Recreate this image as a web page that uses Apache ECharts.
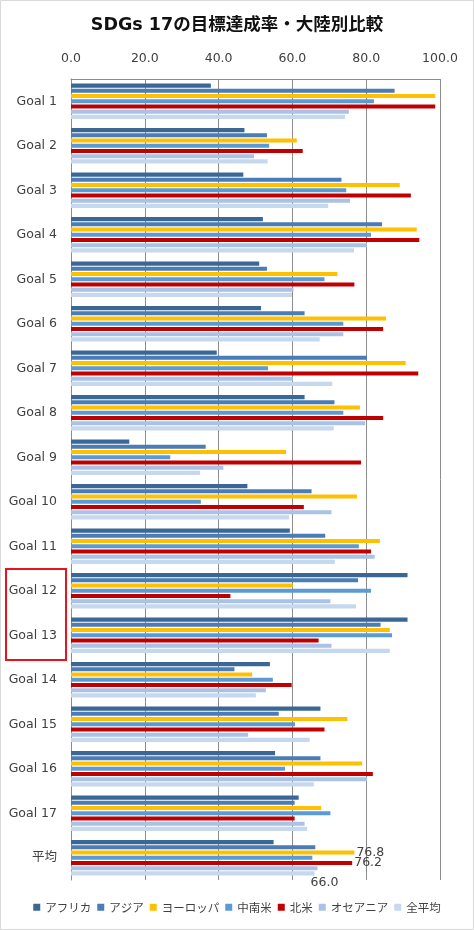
<!DOCTYPE html>
<html>
<head>
<meta charset="utf-8">
<script src="https://cdn.jsdelivr.net/npm/echarts@6/dist/echarts.min.js"></script>
<style>
  html, body { margin: 0; padding: 0; background: #fff; }
  #chart { width: 474px; height: 930px; }
</style>
</head>
<body>
<div id="chart"></div>
<script>
const goals = ['Goal 1', 'Goal 2', 'Goal 3', 'Goal 4', 'Goal 5', 'Goal 6', 'Goal 7', 'Goal 8', 'Goal 9',
  'Goal 10', 'Goal 11', 'Goal 12', 'Goal 13', 'Goal 14', 'Goal 15', 'Goal 16', 'Goal 17', '平均']
const seriesNames = ['アフリカ', 'アジア', 'ヨーロッパ', '中南米', '北米', 'オセアニア', '全平均']
const xTicks = [0, 20, 40, 60, 80, 100]

const africa = [37.9, 47.0, 46.7, 52.0, 51.0, 51.5, 39.5, 63.3, 15.8, 47.8, 59.3, 91.2, 91.2, 53.9, 67.6, 55.3, 61.7, 54.9]
const asia = [87.7, 53.1, 73.3, 84.3, 53.1, 63.3, 80.2, 71.4, 36.5, 65.2, 68.9, 77.8, 83.9, 44.3, 56.3, 67.6, 60.6, 66.2]
const europe = [98.7, 61.2, 89.1, 93.7, 72.2, 85.4, 90.7, 78.3, 58.3, 77.5, 83.7, 60.1, 86.4, 49.1, 74.9, 78.9, 67.8, 76.8]
const latam = [82.1, 53.7, 74.6, 81.3, 68.7, 73.8, 53.4, 73.8, 26.9, 35.2, 78.0, 81.3, 87.0, 54.7, 60.7, 58.0, 70.3, 65.4]
const northAm = [98.7, 62.8, 92.1, 94.4, 76.8, 84.6, 94.1, 84.6, 78.6, 63.1, 81.3, 43.2, 67.1, 59.8, 68.7, 81.8, 60.6, 76.2]
const oceania = [75.3, 49.6, 75.6, 80.2, 60.3, 73.8, 60.1, 79.7, 41.3, 70.6, 82.3, 70.3, 70.6, 52.8, 48.0, 80.2, 63.3, 66.8]
const overall = [74.3, 53.3, 69.7, 76.7, 59.9, 67.4, 70.8, 71.2, 35.0, 59.1, 71.5, 77.2, 86.4, 50.1, 64.7, 65.8, 64.0, 66.0]

const colors = ['#3a6795', '#4a7db5', '#ffc000', '#5b9bd5', '#c00000', '#a9c2e6', '#c6d8ee']
const allData = [africa, asia, europe, latam, northAm, oceania, overall]

const latin = '"DejaVu Sans", "Noto Sans CJK JP", sans-serif'
const cjk = '"Noto Sans CJK JP", sans-serif'

// only the 平均 row carries value labels (ヨーロッパ, 北米, 全平均)
const labelled = { 2: [1, 0], 4: [1, 0], 6: [-5, 9] }
const avgIdx = goals.length - 1

const chart = echarts.init(document.getElementById('chart'))

const series = allData.map((arr, i) => ({
  name: seriesNames[i],
  type: 'bar',
  barGap: '25%',
  barCategoryGap: '20%',
  itemStyle: { color: colors[i] },
  data: arr.map((v, j) => {
    if (j === avgIdx && labelled[i]) {
      return {
        value: v,
        label: {
          show: true,
          position: 'right',
          distance: 1,
          offset: labelled[i],
          formatter: (p) => p.value.toFixed(1),
          color: '#404040',
          fontSize: 12.5,
          fontFamily: latin,
        },
      }
    }
    return v
  }),
}))

chart.setOption({
  animation: false,
  color: colors,
  title: {
    text: 'SDGs 17の目標達成率・大陸別比較',
    left: 'center',
    top: 12,
    textStyle: { fontSize: 17.5, fontWeight: 'bold', color: '#111', fontFamily: latin },
  },
  legend: {
    data: seriesNames,
    bottom: 12,
    left: 'center',
    icon: 'rect',
    itemWidth: 7,
    itemHeight: 7,
    itemGap: 6,
    textStyle: { color: '#404040', fontSize: 11.5, fontFamily: cjk },
  },
  grid: { left: 71, right: 34, top: 79, bottom: 50 },
  xAxis: {
    type: 'value',
    position: 'top',
    min: xTicks[0],
    max: xTicks[xTicks.length - 1],
    interval: 20,
    axisLine: { show: true, lineStyle: { color: '#8c8c8c' } },
    axisTick: { show: false },
    axisLabel: {
      margin: 14,
      color: '#404040',
      fontSize: 12.5,
      fontFamily: latin,
      formatter: (v) => v.toFixed(1),
    },
    splitLine: { show: true, lineStyle: { color: '#8c8c8c', width: 1 } },
  },
  yAxis: {
    type: 'category',
    data: goals,
    inverse: true,
    axisLine: { show: true, lineStyle: { color: '#8c8c8c' } },
    axisTick: { show: false },
    axisLabel: { margin: 14, color: '#404040', fontSize: 12.5, fontFamily: latin },
  },
  graphic: [
    {
      type: 'rect',
      shape: { x: 0.5, y: 0.5, width: 473, height: 929 },
      style: { fill: 'none', stroke: '#d9d9d9', lineWidth: 1 },
      silent: true,
    },
    {
      type: 'rect',
      shape: { x: 6, y: 569, width: 60, height: 91 },
      style: { fill: 'none', stroke: '#e8141c', lineWidth: 2 },
      silent: true,
      z: 100,
    },
  ],
  series,
})
</script>
</body>
</html>
